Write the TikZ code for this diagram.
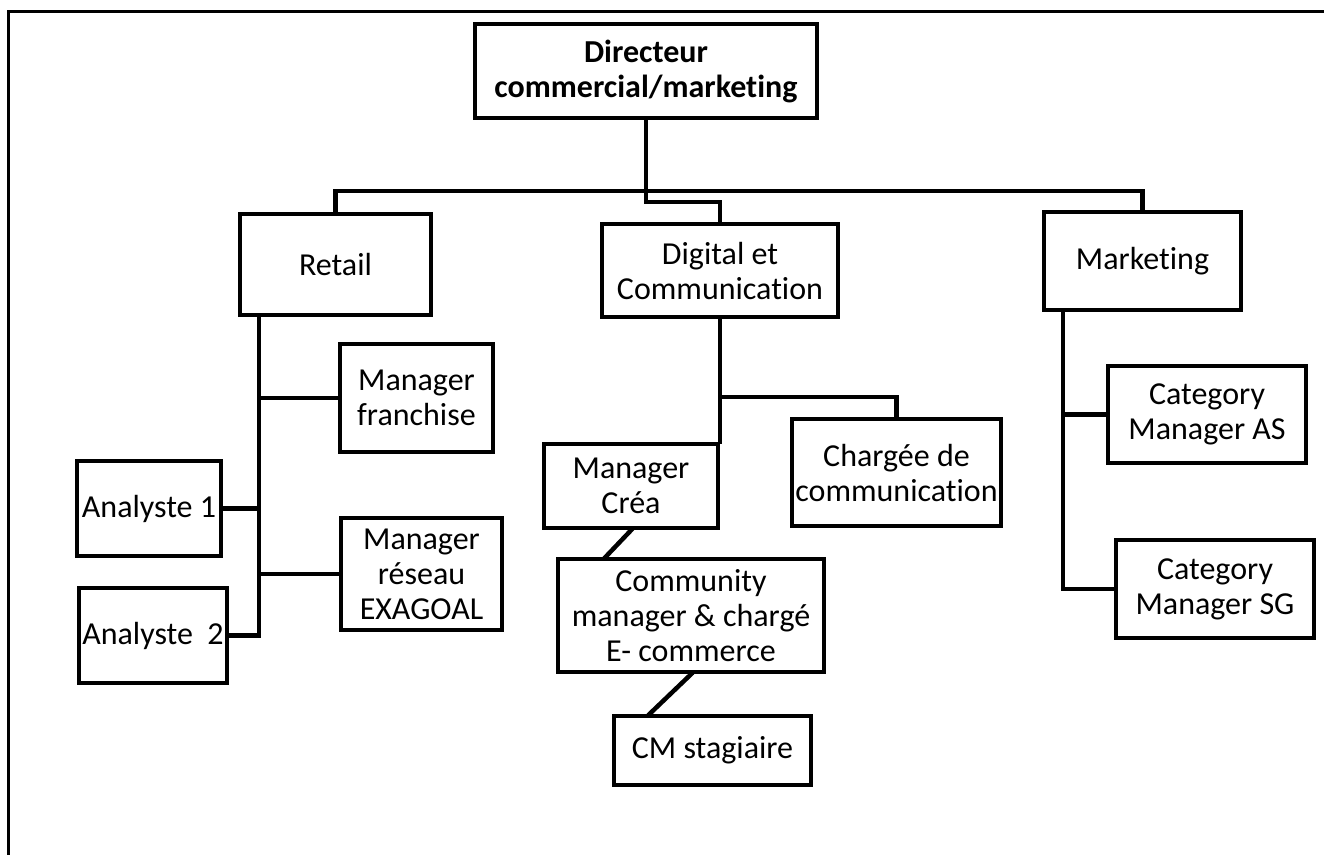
\documentclass[tikz,border=0pt]{standalone}
\usepackage{fontspec}
\setmainfont{Carlito}[Ligatures=NoCommon]
\usepackage{tikz}

\begin{document}
\begin{tikzpicture}[x=1pt, y=-1pt,
        box/.style={draw=black, line width=4.5pt, align=center, inner sep=0pt, font=\fontsize{32}{35}\selectfont},
        headbox/.style={box, font=\fontsize{32}{35}\selectfont\bfseries},
        link/.style={draw=black, line width=4.5pt, line cap=rect}]
        \useasboundingbox (0,0) rectangle (1324,855);
        % page frame
        \draw[line width=3pt] (1324,11) -- (8,11) -- (8,855);

        % top level
        \node[headbox, minimum width=342pt, minimum height=94pt] (dir) at (646,71) {Directeur\\commercial/marketing};
        \node[box, minimum width=191pt, minimum height=101pt] (retail) at (335.5,264.5) {Retail};
        \node[box, minimum width=236pt, minimum height=93pt] (digital) at (720,270.5) {Digital et\\Communication};
        \node[box, minimum width=197pt, minimum height=98pt] (mkt) at (1142.5,261) {Marketing};

        % retail team
        \node[box, minimum width=153pt, minimum height=108pt] (franch) at (416.5,398) {Manager\\franchise};
        \node[box, minimum width=161pt, minimum height=112pt] (reseau) at (421.5,574) {Manager\\réseau\\EXAGOAL};
        \node[box, minimum width=144pt, minimum height=95pt] (ana1) at (149,508.5) {Analyste 1};
        \node[box, minimum width=148pt, minimum height=95pt] (ana2) at (153,635.5) {Analyste~~2};

        % digital team
        \node[box, minimum width=174pt, minimum height=84pt] (crea) at (631,486) {Manager\\Créa};
        \node[box, minimum width=209pt, minimum height=107pt] (chargee) at (896.5,472.5) {Chargée de\\communication};
        \node[box, minimum width=266pt, minimum height=113pt] (comm) at (691,615.5) {Community\\manager \& chargé\\E- commerce};
        \node[box, minimum width=197pt, minimum height=69pt] (stag) at (712.5,750.5) {CM stagiaire};

        % marketing team
        \node[box, minimum width=198pt, minimum height=97pt] (catas) at (1207,414.5) {Category\\Manager AS};
        \node[box, minimum width=198pt, minimum height=98pt] (catsg) at (1215,589) {Category\\Manager SG};

        % helper lines
        \coordinate (busY) at (0,191);
        \coordinate (digY) at (0,202);
        \coordinate (chY) at (0,397);
        \coordinate (rs) at (259,0);
        \coordinate (ms) at (1063,0);

        % links from the director
        \draw[link] (dir.south) -- (dir.south |- busY) -| (retail.north);
        \draw[link] (dir.south |- busY) -| (mkt.north);
        \draw[link] (dir.south |- busY) -- (dir.south |- digY) -| (digital.north);

        % retail links
        \draw[link] (rs |- retail.south) -- (rs |- ana2.east) -- (ana2.east);
        \draw[link] (rs |- ana1.east) -- (ana1.east);
        \draw[link] (rs |- franch.west) -- (franch.west);
        \draw[link] (rs |- reseau.west) -- (reseau.west);

        % digital links
        \draw[link] (digital.south) -- (digital.south |- crea.north);
        \draw[link] (digital.south |- chY) -| (chargee.north);
        \draw[link] (crea.south) -- ([xshift=50pt]comm.north west);
        \draw[link] (comm.south) -- ([xshift=38pt]stag.north west);

        % marketing links
        \draw[link] (ms |- mkt.south) -- (ms |- catsg.west) -- (catsg.west);
        \draw[link] (ms |- catas.west) -- (catas.west);
    \end{tikzpicture}
\end{document}
